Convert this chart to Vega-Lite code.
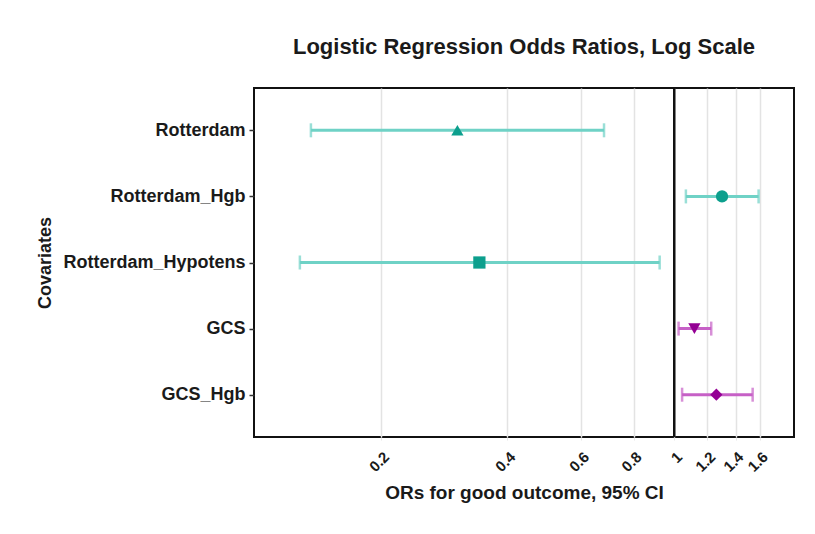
{
  "$schema": "https://vega.github.io/schema/vega-lite/v6.json",
  "width": 540,
  "height": 349,
  "autosize": {"type": "none"},
  "padding": {"left": 254, "top": 88, "right": 21, "bottom": 97},
  "background": "white",
  "title": {
    "text": "Logistic Regression Odds Ratios, Log Scale",
    "font": "Liberation Sans",
    "fontSize": 22,
    "fontWeight": "bold",
    "color": "#1a1a1a",
    "anchor": "middle",
    "offset": 28
  },
  "data": {
    "values": [
      {"cov": "Rotterdam", "or": 0.304, "lo": 0.136, "hi": 0.68, "grp": "Rotterdam"},
      {"cov": "Rotterdam_Hgb", "or": 1.30, "lo": 1.066, "hi": 1.589, "grp": "Rotterdam"},
      {"cov": "Rotterdam_Hypotens", "or": 0.343, "lo": 0.128, "hi": 0.923, "grp": "Rotterdam"},
      {"cov": "GCS", "or": 1.117, "lo": 1.024, "hi": 1.225, "grp": "GCS"},
      {"cov": "GCS_Hgb", "or": 1.26, "lo": 1.044, "hi": 1.538, "grp": "GCS"}
    ]
  },
  "config": {
    "view": {"stroke": "#111", "strokeWidth": 2},
    "font": "Liberation Sans"
  },
  "layer": [
    {
      "mark": {"type": "rule", "strokeWidth": 3},
      "encoding": {
        "y": {
          "field": "cov",
          "type": "nominal",
          "sort": ["Rotterdam", "Rotterdam_Hgb", "Rotterdam_Hypotens", "GCS", "GCS_Hgb"],
          "scale": {"type": "point", "padding": 0.64},
          "axis": {
            "title": "Covariates",
            "titleFontSize": 18,
            "titleFontWeight": "bold",
            "titleColor": "#1a1a1a",
            "titlePadding": 8,
            "labelFontSize": 18,
            "labelFontWeight": "bold",
            "labelColor": "#1a1a1a",
            "labelPadding": 4,
            "labelLimit": 400,
            "tickSize": 5,
            "tickWidth": 1.5,
            "tickColor": "#333",
            "domain": false,
            "grid": false
          }
        },
        "x": {
          "field": "lo",
          "type": "quantitative",
          "scale": {"type": "log", "domain": [0.0995, 1.93], "nice": false, "zero": false},
          "axis": {
            "title": "ORs for good outcome, 95% CI",
            "titleFontSize": 19,
            "titleFontWeight": "bold",
            "titleColor": "#1a1a1a",
            "titlePadding": 9,
            "values": [0.2, 0.4, 0.6, 0.8, 1, 1.2, 1.4, 1.6],
            "format": "~g",
            "labelAngle": -45,
            "labelFontSize": 15,
            "labelFontWeight": "bold",
            "labelColor": "#1a1a1a",
            "labelPadding": 9,
            "labelOverlap": false,
            "labelBound": false,
            "labelFlush": false,
            "tickSize": 3,
            "tickColor": "#e6e6e6",
            "domain": false,
            "grid": true,
            "gridColor": "#e3e3e3",
            "gridWidth": 1.5
          }
        },
        "x2": {"field": "hi"},
        "color": {
          "field": "grp",
          "type": "nominal",
          "scale": {"domain": ["Rotterdam", "GCS"], "range": ["#6fd2c6", "#c660c6"]},
          "legend": null
        }
      }
    },
    {
      "mark": {"type": "tick", "orient": "vertical", "size": 14, "thickness": 2.5},
      "encoding": {
        "y": {"field": "cov", "type": "nominal", "sort": ["Rotterdam", "Rotterdam_Hgb", "Rotterdam_Hypotens", "GCS", "GCS_Hgb"]},
        "x": {"field": "lo", "type": "quantitative"},
        "color": {"field": "grp", "type": "nominal", "legend": null}
      }
    },
    {
      "mark": {"type": "tick", "orient": "vertical", "size": 14, "thickness": 2.5},
      "encoding": {
        "y": {"field": "cov", "type": "nominal", "sort": ["Rotterdam", "Rotterdam_Hgb", "Rotterdam_Hypotens", "GCS", "GCS_Hgb"]},
        "x": {"field": "hi", "type": "quantitative"},
        "color": {"field": "grp", "type": "nominal", "legend": null}
      }
    },
    {
      "mark": {"type": "point", "filled": true, "opacity": 1, "size": 150, "strokeWidth": 0},
      "encoding": {
        "y": {"field": "cov", "type": "nominal", "sort": ["Rotterdam", "Rotterdam_Hgb", "Rotterdam_Hypotens", "GCS", "GCS_Hgb"]},
        "x": {"field": "or", "type": "quantitative"},
        "shape": {
          "field": "cov",
          "type": "nominal",
          "scale": {
            "domain": ["Rotterdam", "Rotterdam_Hgb", "Rotterdam_Hypotens", "GCS", "GCS_Hgb"],
            "range": ["triangle-up", "circle", "square", "triangle-down", "diamond"]
          },
          "legend": null
        },
        "fill": {
          "field": "grp",
          "type": "nominal",
          "scale": {"domain": ["Rotterdam", "GCS"], "range": ["#0c9f8d", "#940094"]},
          "legend": null
        }
      }
    },
    {
      "data": {"values": [{"v": 1}]},
      "mark": {"type": "rule", "color": "#111", "strokeWidth": 2.5},
      "encoding": {"x": {"field": "v", "type": "quantitative"}}
    }
  ]
}
